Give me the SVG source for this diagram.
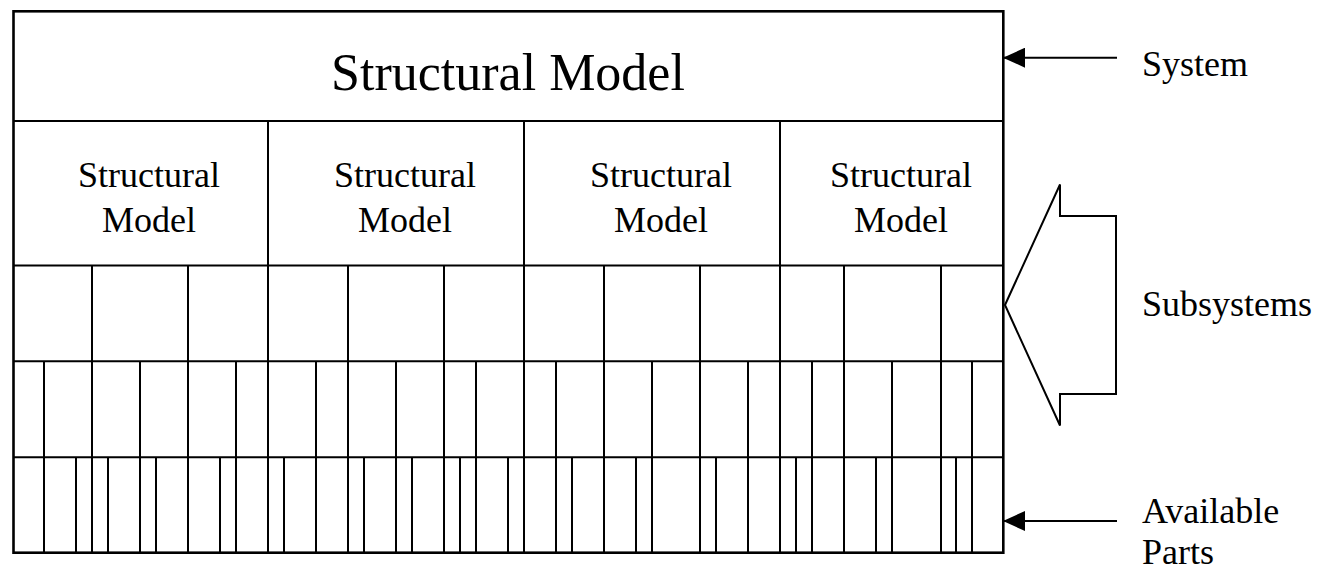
<svg xmlns="http://www.w3.org/2000/svg" width="1328" height="571" viewBox="0 0 1328 571">
<style>
.ln{stroke:#000;stroke-width:2;fill:none}
.bd{stroke:#000;stroke-width:2.6;fill:none}
.t{font-family:"Liberation Serif","Times New Roman",serif;fill:#000}
.big{font-size:52px;text-anchor:middle}
.mid{font-size:36px;text-anchor:middle}
.lbl{font-size:36px}
</style>
<defs>
<marker id="ah" markerUnits="userSpaceOnUse" markerWidth="22" markerHeight="20" refX="22" refY="10" orient="auto">
<path d="M0,0 L22,10 L0,20 z" fill="#000"/>
</marker>
</defs>
<rect x="0" y="0" width="1328" height="571" fill="#fff"/>
<g id="system">
<line class="ln" x1="13" y1="121" x2="1003" y2="121"/>
<text class="t big" x="508" y="90">Structural Model</text>
</g>
<g id="subsystems">
<line class="ln" x1="13" y1="265.5" x2="1003" y2="265.5"/>
<path class="ln" d="M268,121V553 M524,121V553 M780,121V553"/>
<text class="t mid" x="149" y="187">Structural</text>
<text class="t mid" x="149" y="232">Model</text>
<text class="t mid" x="405" y="187">Structural</text>
<text class="t mid" x="405" y="232">Model</text>
<text class="t mid" x="661" y="187">Structural</text>
<text class="t mid" x="661" y="232">Model</text>
<text class="t mid" x="901" y="187">Structural</text>
<text class="t mid" x="901" y="232">Model</text>
</g>
<g id="level3">
<line class="ln" x1="13" y1="361.3" x2="1003" y2="361.3"/>
<path class="ln" d="M92,265.5V553 M188,265.5V553 M348,265.5V553 M444,265.5V553 M604,265.5V553 M700,265.5V553 M844,265.5V553 M941,265.5V553"/>
</g>
<g id="level4">
<line class="ln" x1="13" y1="457.3" x2="1003" y2="457.3"/>
<path class="ln" d="M44,361.3V553 M140,361.3V553 M236,361.3V553 M316,361.3V553 M396,361.3V553 M476,361.3V553 M556,361.3V553 M652,361.3V553 M748,361.3V553 M812,361.3V553 M892,361.3V553 M972,361.3V553"/>
</g>
<g id="parts">
<path class="ln" d="M76,457.3V553 M108,457.3V553 M156,457.3V553 M220,457.3V553 M284,457.3V553 M364,457.3V553 M412,457.3V553 M460,457.3V553 M508,457.3V553 M572,457.3V553 M636,457.3V553 M716,457.3V553 M796,457.3V553 M876,457.3V553 M956,457.3V553"/>
</g>
<g id="frame">
<rect class="bd" x="13.5" y="11.3" width="989.8" height="541.4"/>
</g>
<g id="connectors">
<line class="ln" x1="1117" y1="57.7" x2="1003" y2="57.7" marker-end="url(#ah)"/>
<line class="ln" x1="1117" y1="521" x2="1003" y2="521" marker-end="url(#ah)"/>
<path class="ln" d="M1005,305 L1060,184.5 L1060,216 L1116,216 L1116,394 L1060,394 L1060,425.5 Z" stroke-linejoin="miter"/>
</g>
<g id="labels">
<text class="t lbl" x="1142" y="76">System</text>
<text class="t lbl" x="1142" y="316">Subsystems</text>
<text class="t lbl" x="1142" y="523">Available</text>
<text class="t lbl" x="1142" y="564">Parts</text>
</g>
</svg>
